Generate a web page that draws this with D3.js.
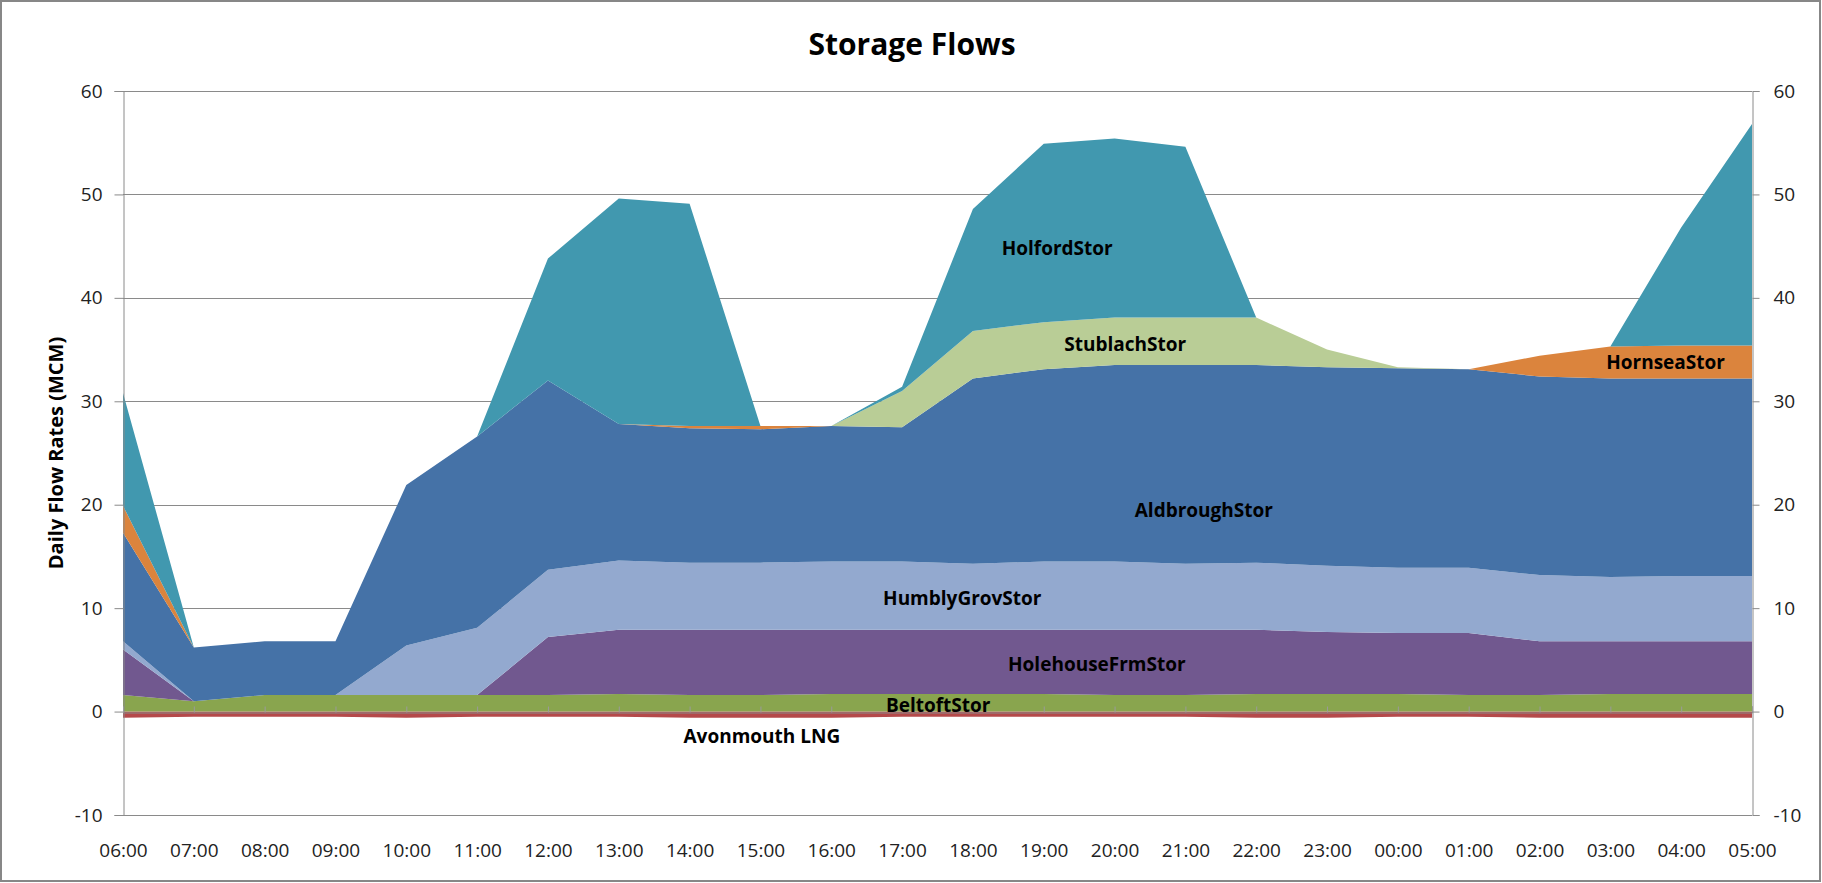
<!DOCTYPE html>
<html>
<head>
<meta charset="utf-8">
<script src="https://cdn.jsdelivr.net/npm/d3@7"></script>
<style>
  body { margin: 0; background: #fff; }
  svg { display: block; font-family: "Open Sans", sans-serif; }
</style>
</head>
<body>
<svg class="chart" width="1822" height="883"></svg>
<script>
// hourly gas-day categories
var times = ["06:00", "07:00", "08:00", "09:00", "10:00", "11:00", "12:00", "13:00", "14:00", "15:00", "16:00", "17:00",
             "18:00", "19:00", "20:00", "21:00", "22:00", "23:00", "00:00", "01:00", "02:00", "03:00", "04:00", "05:00"];

// series values (MCM)
var avonmouth  = [-0.6, -0.5, -0.5, -0.5, -0.6, -0.5, -0.5, -0.5, -0.6, -0.6, -0.6, -0.5, -0.5, -0.5, -0.5, -0.5, -0.6, -0.6, -0.5, -0.5, -0.6, -0.6, -0.6, -0.6];
var beltoft    = [1.6, 1.0, 1.6, 1.6, 1.6, 1.6, 1.6, 1.7, 1.6, 1.6, 1.7, 1.7, 1.7, 1.7, 1.6, 1.6, 1.7, 1.7, 1.7, 1.6, 1.6, 1.7, 1.7, 1.7];
var holehouse  = [4.4, 0, 0, 0, 0, 0, 5.6, 6.2, 6.3, 6.3, 6.2, 6.2, 6.2, 6.2, 6.3, 6.3, 6.2, 6.0, 5.9, 6.0, 5.2, 5.1, 5.1, 5.1];
var humbly     = [0.8, 0, 0, 0, 4.8, 6.5, 6.5, 6.7, 6.5, 6.5, 6.6, 6.6, 6.4, 6.6, 6.6, 6.4, 6.5, 6.4, 6.3, 6.3, 6.4, 6.2, 6.3, 6.3];
var aldbrough  = [10.5, 5.2, 5.2, 5.2, 15.5, 18.5, 18.3, 13.2, 13.0, 12.9, 13.1, 13.0, 17.9, 18.6, 19.0, 19.2, 19.1, 19.2, 19.3, 19.2, 19.2, 19.2, 19.1, 19.1];
var hornsea    = [2.6, 0, 0, 0, 0, 0, 0, 0, 0.2, 0.3, 0, 0, 0, 0, 0, 0, 0, 0, 0, 0, 2.0, 3.1, 3.2, 3.2];
var stublach   = [0, 0, 0, 0, 0, 0, 0, 0, 0, 0, 0, 3.5, 4.6, 4.55, 4.6, 4.6, 4.6, 1.7, 0.1, 0, 0, 0, 0, 0];
var holford    = [10.9, 0, 0, 0, 0, 0, 11.8, 21.8, 21.5, 0, 0, 0.4, 11.8, 17.25, 17.3, 16.5, 0, 0, 0, 0, 0, 0, 11.4, 21.4];

var yTicks = [-10, 0, 10, 20, 30, 40, 50, 60];

// negative send-out series, drawn below zero
var negSeries = [
    { key: "Avonmouth LNG", values: avonmouth, color: "#b5494a" }
];

// positive series, stacking order bottom -> top
var posSeries = [
    { key: "BeltoftStor",      values: beltoft,   color: "#89a54e" },
    { key: "HolehouseFrmStor", values: holehouse, color: "#71588f" },
    { key: "HumblyGrovStor",   values: humbly,    color: "#93a9cf" },
    { key: "AldbroughStor",    values: aldbrough, color: "#4572a7" },
    { key: "HornseaStor",      values: hornsea,   color: "#db843d" },
    { key: "StublachStor",     values: stublach,  color: "#b9cd96" },
    { key: "HolfordStor",      values: holford,   color: "#4198af" }
];

// where each in-chart label sits: [category position, value]
var labelSpots = {
    "HolfordStor": [13.19, 44.8],
    "StublachStor": [14.15, 35.5],
    "HornseaStor": [21.78, 33.8],
    "AldbroughStor": [15.26, 19.5],
    "HumblyGrovStor": [11.85, 11.0],
    "HolehouseFrmStor": [13.75, 4.6],
    "BeltoftStor": [11.51, 0.6],
    "Avonmouth LNG": [9.02, -2.4]
};

var svg = d3.select(".chart"),
    plotLeft = 123, plotRight = 1752, plotTop = 91, plotBottom = 815;

var x = d3.scalePoint().domain(times).range([plotLeft, plotRight]);
var y = d3.scaleLinear().domain([-10, 60]).range([plotBottom, plotTop]);
var step = x.step();

function buildStack(list) {
    var table = times.map(function(t, i) {
        var row = { time: t };
        list.forEach(function(s) { row[s.key] = s.values[i]; });
        return row;
    });
    var layers = d3.stack().keys(list.map(function(s) { return s.key; }))(table);
    layers.forEach(function(l, i) { l.color = list[i].color; });
    return layers;
}

var stacked = buildStack(negSeries).concat(buildStack(posSeries));
var allSeries = negSeries.concat(posSeries);

// outer frame
svg.append("rect")
    .attr("x", 1).attr("y", 1).attr("width", 1819).attr("height", 880)
    .attr("fill", "#fff").attr("stroke", "#878787").attr("stroke-width", 2);

// title
svg.append("text")
    .attr("x", 912).attr("y", 43)
    .attr("text-anchor", "middle").attr("dominant-baseline", "central")
    .attr("font-size", 30).attr("font-weight", "bold")
    .text("Storage Flows");

// gridlines
svg.append("g")
    .selectAll("line")
    .data(yTicks)
    .enter().append("line")
    .attr("x1", plotLeft).attr("x2", plotRight)
    .attr("y1", function(d) { return Math.round(y(d)) + 0.5; })
    .attr("y2", function(d) { return Math.round(y(d)) + 0.5; })
    .attr("stroke", "#8a8a8a").attr("stroke-width", 1);

// areas
var area = d3.area()
    .x(function(d) { return x(d.data.time); })
    .y0(function(d) { return y(d[0]); })
    .y1(function(d) { return y(d[1]); });

svg.append("g")
    .selectAll("path")
    .data(stacked)
    .enter().append("path")
    .attr("fill", function(d) { return d.color; })
    .attr("d", area);

// left and right value axes
var plainNum = function(d) { return String(d); };
var yLeft = svg.append("g")
    .attr("transform", "translate(" + (plotLeft + 0.5) + ",0)")
    .call(d3.axisLeft(y).tickValues(yTicks).tickFormat(plainNum).tickSize(9).tickPadding(12));
var yRight = svg.append("g")
    .attr("transform", "translate(" + (plotRight + 0.5) + ",0)")
    .call(d3.axisRight(y).tickValues(yTicks).tickFormat(plainNum).tickSize(7).tickPadding(14));

[yLeft, yRight].forEach(function(g) {
    g.select(".domain").attr("stroke", "#8a8a8a");
    g.selectAll(".tick line").attr("stroke", "#8a8a8a");
    g.selectAll(".tick text")
        .attr("font-family", "Open Sans").attr("font-size", 19).attr("fill", "#222");
});

// category axis crossing at zero, ticks inside
var xZero = svg.append("g")
    .attr("transform", "translate(0," + (Math.round(y(0)) + 0.5) + ")")
    .call(d3.axisBottom(x).tickSize(-6).tickFormat(""));
xZero.select(".domain").attr("stroke", "#8a8a8a");
xZero.selectAll(".tick line").attr("stroke", "#9a9a9a");

// category labels along the bottom
var xLab = svg.append("g")
    .attr("transform", "translate(0," + plotBottom + ")")
    .call(d3.axisBottom(x).tickSize(0));
xLab.select(".domain").remove();
xLab.selectAll(".tick text")
    .attr("y", 35).attr("dy", "0.35em")
    .attr("font-family", "Open Sans").attr("font-size", 19).attr("fill", "#222");

// y axis title
svg.append("text")
    .attr("transform", "translate(55," + ((plotTop + plotBottom) / 2) + ") rotate(-90)")
    .attr("text-anchor", "middle").attr("dominant-baseline", "central")
    .attr("font-size", 20).attr("font-weight", "bold")
    .text("Daily Flow Rates (MCM)");

// series labels
svg.append("g")
    .selectAll("text")
    .data(allSeries)
    .enter().append("text")
    .attr("x", function(d) { return plotLeft + labelSpots[d.key][0] * step; })
    .attr("y", function(d) { return y(labelSpots[d.key][1]); })
    .attr("text-anchor", "middle").attr("dominant-baseline", "central")
    .attr("font-size", 19).attr("font-weight", "bold").attr("fill", "#000")
    .text(function(d) { return d.key; });
</script>
</body>
</html>
